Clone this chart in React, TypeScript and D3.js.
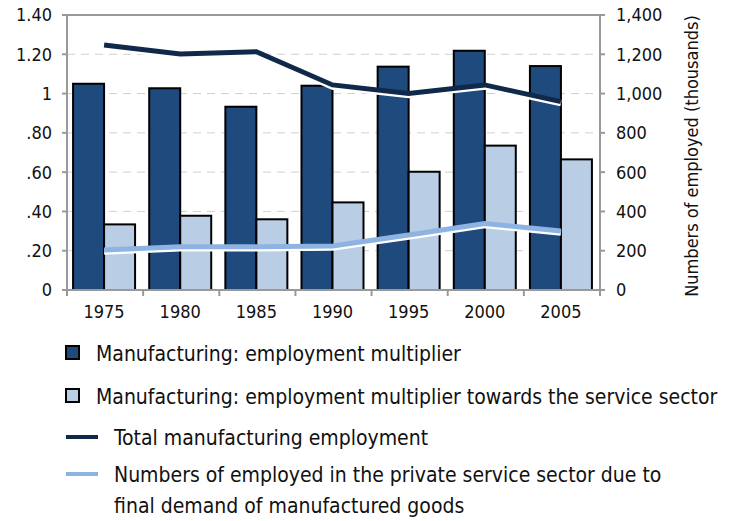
import React from "react";
import * as d3 from "d3";

const years = ["1975", "1980", "1985", "1990", "1995", "2000", "2005"];
const multiplier = [1.05, 1.027, 0.933, 1.04, 1.137, 1.218, 1.14];
const multiplierService = [0.334, 0.378, 0.36, 0.446, 0.602, 0.735, 0.665];
const totalManufacturing = [1247, 1201, 1213, 1044, 1001, 1044, 959];
const serviceEmployed = [204, 220, 220, 224, 280, 339, 300];
const leftTicks = [0, 0.2, 0.4, 0.6, 0.8, 1, 1.2, 1.4];
const leftTickLabels = ["0", ".20", ".40", ".60", ".80", "1", "1.20", "1.40"];
const rightTicks = [0, 200, 400, 600, 800, 1000, 1200, 1400];
const legendItems = [
  "Manufacturing: employment multiplier",
  "Manufacturing: employment multiplier towards the service sector",
  "Total manufacturing employment",
  "Numbers of employed in the private service sector due to",
  "final demand of manufactured goods",
];

const W = 729, H = 521;
const M = { left: 67, right: 600, top: 15, bottom: 290 };
const DARK_BAR = "#1f4a7e";
const LIGHT_BAR = "#b9cde5";
const DARK_LINE = "#10294a";
const LIGHT_LINE = "#8db3e2";
const AXIS = "#999";
const FONT = "'DejaVu Sans Condensed', 'DejaVu Sans', sans-serif";

export default function App() {
  const x = d3.scaleBand<string>().domain(years).range([M.left, M.right]).paddingInner(0).paddingOuter(0);
  const yL = d3.scaleLinear().domain([0, 1.4]).range([M.bottom, M.top]);
  const yR = d3.scaleLinear().domain([0, 1400]).range([M.bottom, M.top]);
  const bw = 31;
  const cx = (y: string) => (x(y) as number) + x.bandwidth() / 2 - 1;
  const line = (vals: number[]) =>
    d3.line<number>().x((_, i) => cx(years[i])).y((v) => yR(v))(vals) as string;

  return (
    <svg width={W} height={H} style={{ position: "absolute", left: 0, top: 0, background: "#fff" }}>
      {leftTicks.slice(1, -1).map((t) => (
        <line key={t} x1={M.left} x2={M.right} y1={yL(t)} y2={yL(t)} stroke="#d0d0d0" strokeDasharray="8,6" strokeWidth={1} />
      ))}
      {years.map((yr, i) => (
        <g key={yr}>
          <rect x={cx(yr) - bw} y={yL(multiplier[i])} width={bw} height={M.bottom - yL(multiplier[i])} fill={DARK_BAR} stroke="#000" strokeWidth={2} />
          <rect x={cx(yr)} y={yL(multiplierService[i])} width={bw} height={M.bottom - yL(multiplierService[i])} fill={LIGHT_BAR} stroke="#000" strokeWidth={2} />
        </g>
      ))}
      <path d={line(totalManufacturing)} fill="none" stroke="#fff" strokeWidth={6} transform="translate(0,1.8)" />
      <path d={line(totalManufacturing)} fill="none" stroke={DARK_LINE} strokeWidth={5} />
      <path d={line(serviceEmployed)} fill="none" stroke="#fff" strokeWidth={6} transform="translate(0,1.8)" />
      <path d={line(serviceEmployed)} fill="none" stroke={LIGHT_LINE} strokeWidth={5} />
      <line x1={M.left} x2={M.right} y1={M.top} y2={M.top} stroke={AXIS} strokeWidth={2} />
      <line x1={M.left} x2={M.left} y1={M.top} y2={M.bottom} stroke={AXIS} strokeWidth={2} />
      <line x1={M.right} x2={M.right} y1={M.top} y2={M.bottom} stroke={AXIS} strokeWidth={2} />
      <line x1={M.left} x2={M.right} y1={M.bottom} y2={M.bottom} stroke={AXIS} strokeWidth={2} />
      {leftTicks.map((t, i) => (
        <g key={"l" + t}>
          <line x1={M.left - 5} x2={M.left} y1={yL(t)} y2={yL(t)} stroke={AXIS} strokeWidth={2} />
          <text x={52} y={yL(t)} dy="0.36em" textAnchor="end" fontFamily={FONT} fontSize={18} fill="#111">{leftTickLabels[i]}</text>
        </g>
      ))}
      {rightTicks.map((t) => (
        <g key={"r" + t}>
          <line x1={M.right} x2={M.right + 5} y1={yR(t)} y2={yR(t)} stroke={AXIS} strokeWidth={2} />
          <text x={616} y={yR(t)} dy="0.36em" textAnchor="start" fontFamily={FONT} fontSize={18} fill="#111">{d3.format(",")(t)}</text>
        </g>
      ))}
      {[...years.map((y) => x(y) as number), M.right].map((px, i) => (
        <line key={"b" + i} x1={px} x2={px} y1={M.bottom} y2={M.bottom + 6} stroke={AXIS} strokeWidth={2} />
      ))}
      {years.map((yr) => (
        <text key={"t" + yr} x={cx(yr)} y={318} textAnchor="middle" fontFamily={FONT} fontSize={18} fill="#111">{yr}</text>
      ))}
      <text transform={`translate(698,156) rotate(-90)`} textAnchor="middle" fontFamily={FONT} fontSize={18} fill="#111">Numbers of employed (thousands)</text>
      <rect x={66} y={346} width={13} height={13} fill={DARK_BAR} stroke="#000" strokeWidth={2} />
      <text x={96} y={353} dy="0.36em" fontFamily={FONT} fontSize={21} fill="#111">{legendItems[0]}</text>
      <rect x={66} y={389} width={13} height={13} fill={LIGHT_BAR} stroke="#000" strokeWidth={2} />
      <text x={96} y={396} dy="0.36em" fontFamily={FONT} fontSize={21} fill="#111">{legendItems[1]}</text>
      <line x1={66} x2={98} y1={437} y2={437} stroke={DARK_LINE} strokeWidth={4} />
      <text x={114} y={437} dy="0.36em" fontFamily={FONT} fontSize={21} fill="#111">{legendItems[2]}</text>
      <line x1={66} x2={98} y1={474} y2={474} stroke={LIGHT_LINE} strokeWidth={4} />
      <text x={114} y={474} dy="0.36em" fontFamily={FONT} fontSize={21} fill="#111">{legendItems[3]}</text>
      <text x={114} y={505} dy="0.36em" fontFamily={FONT} fontSize={21} fill="#111">{legendItems[4]}</text>
    </svg>
  );
}
